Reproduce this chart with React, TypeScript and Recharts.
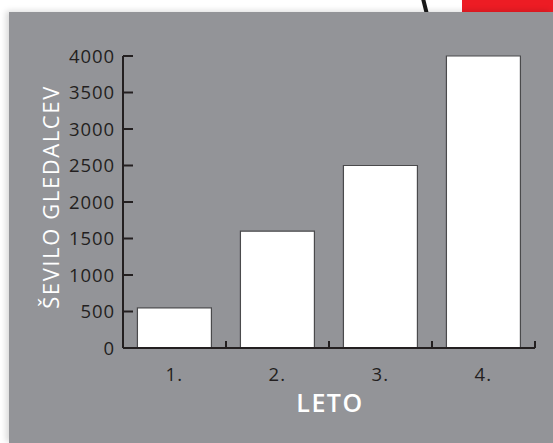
import { BarChart, Bar, XAxis, YAxis, Label } from 'recharts';

const years = ['1.', '2.', '3.', '4.'];
const viewers = [550, 1600, 2500, 4000];
const yTicks = [0, 500, 1000, 1500, 2000, 2500, 3000, 3500, 4000];

const data = years.map((name, i) => ({ name, value: viewers[i] }));

const W = 553;
const H = 443;
const INK = '#231f20';
const PANEL = '#939498';
const FONT = '"Open Sans", "DejaVu Sans", sans-serif';

const margin = { top: 56, right: 18, bottom: 55, left: 63 };
const plotWidth = W - margin.left - 60 - margin.right;
const step = plotWidth / years.length;

const YTick = ({ x, y, payload }: any) => (
  <g>
    <line x1={x} x2={x + 10} y1={y} y2={y} stroke={INK} strokeWidth={2} />
    <text
      x={x - 8}
      y={y}
      dy={6.5}
      textAnchor="end"
      fill={INK}
      fontSize={18.5}
      letterSpacing={0.9}
      fontFamily={FONT}
    >
      {payload.value}
    </text>
  </g>
);

const XTick = ({ x, y, payload }: any) => (
  <g>
    <line x1={x + step / 2} x2={x + step / 2} y1={y} y2={y - 7} stroke={INK} strokeWidth={2} />
    <text
      x={x}
      y={y}
      dy={33}
      textAnchor="middle"
      fill={INK}
      fontSize={18.5}
      letterSpacing={1.2}
      fontFamily={FONT}
    >
      {payload.value}
    </text>
  </g>
);

const App = () => {
  return (
    <div
      style={{
        position: 'absolute',
        left: 0,
        top: 0,
        width: W,
        height: H,
        background: '#ffffff',
        overflow: 'hidden',
      }}
    >
      {/* decoration at the top edge */}
      <div style={{ position: 'absolute', left: 462, top: 0, width: 91, height: 13, background: '#ed1c24' }} />
      <div
        style={{
          position: 'absolute',
          left: 423,
          top: -1,
          width: 4,
          height: 15,
          background: '#1a1a1a',
          transform: 'rotate(-14deg)',
        }}
      />
      <div
        style={{
          position: 'absolute',
          left: 9,
          top: 12,
          width: W - 9,
          height: H - 12,
          background: PANEL,
          boxShadow: '-3px -1px 6px rgba(0,0,0,0.15)',
        }}
      />
      <div style={{ position: 'absolute', left: 0, top: 0 }}>
        <BarChart width={W} height={H} data={data} margin={margin} barCategoryGap="14%">
          <XAxis
            dataKey="name"
            height={40}
            tickSize={0}
            tickMargin={0}
            tickLine={false}
            axisLine={{ stroke: INK, strokeWidth: 2 }}
            tick={<XTick />}
            interval={0}
          >
            <Label
              content={() => (
                <text
                  x={330}
                  y={412}
                  textAnchor="middle"
                  fill="#ffffff"
                  fontSize={25}
                  fontWeight={600}
                  letterSpacing={1.5}
                  fontFamily={FONT}
                >
                  LETO
                </text>
              )}
            />
          </XAxis>
          <YAxis
            width={60}
            domain={[0, 4000]}
            ticks={yTicks}
            interval={0}
            tickSize={0}
            tickMargin={0}
            tickLine={false}
            axisLine={{ stroke: INK, strokeWidth: 2 }}
            tick={<YTick />}
          >
            <Label
              content={() => (
                <text
                  x={59}
                  y={197}
                  transform="rotate(-90 59 197)"
                  textAnchor="middle"
                  fill="#ffffff"
                  fontSize={22}
                  fontWeight={400}
                  letterSpacing={1.6}
                  fontFamily={FONT}
                >
                  ŠEVILO GLEDALCEV
                </text>
              )}
            />
          </YAxis>
          <Bar dataKey="value" fill="#ffffff" stroke="#4a4a4c" strokeWidth={1.2} isAnimationActive={false} />
        </BarChart>
      </div>
    </div>
  );
};

export default App;
